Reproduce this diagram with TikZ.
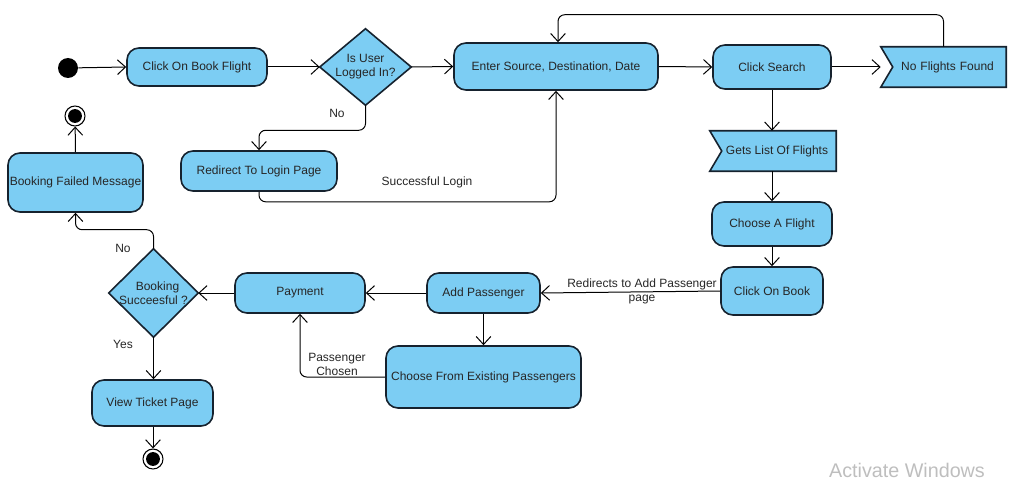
\documentclass[tikz,border=0pt]{standalone}
\usepackage{fontspec}
\setmainfont{Liberation Sans}
\usetikzlibrary{arrows.meta,calc}
\definecolor{boxfill}{RGB}{124,205,243}
\definecolor{boxline}{RGB}{22,34,46}
\definecolor{wmark}{RGB}{190,190,190}
\pgfdeclarelayer{bg}
\pgfsetlayers{bg,main}
\begin{document}
\begin{tikzpicture}[x=0.75pt,y=-0.75pt,
  font=\fontsize{9pt}{10.5pt}\selectfont,
  act/.style={draw=boxline, fill=boxfill, line width=1.2pt, rounded corners=9pt,
    inner sep=1pt, align=center, text=black!85},
  plain/.style={draw=none, fill=none, inner sep=0pt, align=center, text=black!85},
  shapefill/.style={draw=boxline, fill=boxfill, line width=1.2pt},
  arr/.style={-{Straight Barb[length=6pt,width=11pt]}, line width=0.75pt, rounded corners=5pt},
  lbl/.style={inner sep=0pt, align=center, text=black!85},
  startnode/.style={circle, fill=black, minimum size=15pt, inner sep=0pt},
  endnode/.style={circle, draw=black, line width=0.8pt, fill=white, minimum size=15pt, inner sep=0pt,
    path picture={\fill[black] (path picture bounding box.center) circle (5.2pt);}}
]
\useasboundingbox (0,0) rectangle (1034,481);

% nodes
\node[startnode] (start) at (68,68) {};
\node[act, minimum width=105pt, minimum height=28.5pt] (cobf) at (197,67) {Click On Book Flight};
\node[plain, minimum width=68.25pt, minimum height=57pt] (d1) at (365.5,67) {Is User\\Logged In?};
\node[act, minimum width=153pt, minimum height=35.25pt] (esd) at (556,66.5) {Enter Source, Destination, Date};
\node[act, minimum width=88.5pt, minimum height=33pt] (cs) at (772,67) {Click Search};
\node[plain, minimum width=93.75pt, minimum height=30pt, text width=90pt] (nff) at (943.5,67) {\hspace*{6pt}No Flights Found};
\node[plain, minimum width=94.5pt, minimum height=30pt] (glf) at (773,151) {\hspace*{6pt}Gets List Of Flights};
\node[act, minimum width=90pt, minimum height=33pt] (caf) at (772,224) {Choose A Flight};
\node[act, minimum width=76.5pt, minimum height=36pt] (cob) at (772,291) {Click On Book};
\node[act, minimum width=84.75pt, minimum height=30pt] (ap) at (483.5,293) {Add Passenger};
\node[act, minimum width=97.5pt, minimum height=30pt] (pay) at (300,293) {Payment};
\node[act, minimum width=146.25pt, minimum height=46.5pt] (cfe) at (483.5,377) {Choose From Existing Passengers};
\node[plain, minimum width=66.75pt, minimum height=66pt] (d2) at (153.5,293) {\hspace*{6pt}Booking\\Succeesful ?};
\node[act, minimum width=101.25pt, minimum height=44.25pt] (bfm) at (75.5,182.5) {Booking Failed Message};
\node[act, minimum width=90.75pt, minimum height=34.5pt] (vtp) at (152.5,403) {View Ticket Page};
\node[act, minimum width=117pt, minimum height=30pt] (rlp) at (259,171) {Redirect To Login Page};
\node[endnode] (f1) at (75,116) {};
\node[endnode] (f2) at (153,459) {};

% diamond and flag shapes behind their texts
\begin{pgfonlayer}{bg}
  \draw[shapefill] (d1.north) -- (d1.east) -- (d1.south) -- (d1.west) -- cycle;
  \draw[shapefill] (d2.north) -- (d2.east) -- (d2.south) -- (d2.west) -- cycle;
  \draw[shapefill] (nff.north west) -- (nff.north east) -- (nff.south east) -- (nff.south west) -- ([xshift=9pt]nff.west) -- cycle;
  \draw[shapefill] (glf.north west) -- (glf.north east) -- (glf.south east) -- (glf.south west) -- ([xshift=9pt]glf.west) -- cycle;
\end{pgfonlayer}

% connectors
\draw[arr] (start) -- (cobf.west);
\draw[arr] (cobf.east) -- (d1.west);
\draw[arr] (d1.east) -- (esd.west);
\draw[arr] (d1.south) -- ++(0,25) -| (rlp.north);
\draw[arr] (rlp.south) -- ++(0,10) -| (esd.south);
\draw[arr] (esd.east) -- (cs.west);
\draw[arr] (cs.east) -- (nff.west);
\draw[arr] (nff.north) -- ++(0,-32) -| ([xshift=1.5pt]esd.north);
\draw[arr] (cs.south) -- (cs.south |- glf.north);
\draw[arr] (glf.south -| caf.north) -- (caf.north);
\draw[arr] (caf.south) -- (cob.north);
\draw[arr] (cob.west) -- (ap.east);
\draw[arr] (ap.west) -- (pay.east);
\draw[arr] (ap.south) -- (cfe.north);
\draw[arr] (cfe.west) -| (pay.south);
\draw[arr] (pay.west) -- (d2.east);
\draw[arr] (d2.north) -- ++(0,-19) -| (bfm.south);
\draw[arr] (d2.south) -- (d2.south |- vtp.north);
\draw[arr] (bfm.north) -- (f1);
\draw[arr] (vtp.south -| f2) -- (f2);

% labels
\node[lbl] (lno1) at (337,113) {No};
\node[lbl] (lsl) at (427,182) {Successful Login};
\node[lbl] (lred) at (642,291) {Redirects to Add Passenger\\page};
\node[lbl] (lpc) at (337,364) {Passenger\\Chosen};
\node[lbl] (lno2) at (123,248) {No};
\node[lbl] (lyes) at (123,344) {Yes};
\node[inner sep=0pt, text=wmark, font=\fontsize{14.8pt}{16pt}\selectfont] (wm) at (907,470) {Activate Windows};
\end{tikzpicture}
\end{document}
